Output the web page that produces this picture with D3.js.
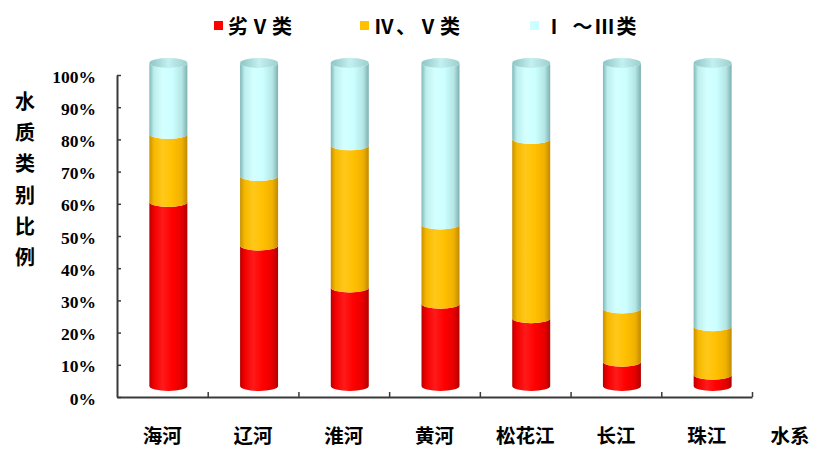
<!DOCTYPE html>
<html>
<head>
<meta charset="utf-8">
<script src="https://cdn.jsdelivr.net/npm/d3@7/dist/d3.min.js"></script>
<style>
  html, body { margin: 0; padding: 0; background: #fff; }
  svg { display: block; }
  .cjk { font-family: "Noto Sans CJK SC", sans-serif; font-weight: 700; }
  .num { font-family: "Liberation Serif", "DejaVu Serif", serif; font-weight: 700; }
</style>
</head>
<body>
<svg id="chart" width="817" height="449"></svg>
<script>
// River basins and the share of monitored sections in each water-quality class (%)
const basins = ["海河", "辽河", "淮河", "黄河", "松花江", "长江", "珠江"];
const worseThanV = [57, 43.5, 30.5, 25.5, 21, 7.5, 3.5];   // 劣Ⅴ类
const classIVtoV = [21, 21.5, 44, 24.5, 55.5, 16.5, 15];   // Ⅳ、Ⅴ类
const classItoIII = [22, 35, 25.5, 50, 23.5, 76, 81.5];    // Ⅰ～Ⅲ类
const seriesNames = ["劣Ⅴ类", "Ⅳ、Ⅴ类", "Ⅰ ～Ⅲ类"];
const yTicks = [0, 10, 20, 30, 40, 50, 60, 70, 80, 90, 100];

const svg = d3.select("#chart");
const plotL = 117, plotR = 752, plotT = 75, plotB = 397;
const depthX = 6, depthY = 6;   // 3D offset of the cylinders behind the axis plane
const ry = 5, halfW = 19;

const x = d3.scaleBand().domain(basins).range([plotL, plotR]).paddingInner(0).paddingOuter(0);
const y = d3.scaleLinear().domain([0, 100]).range([plotB, plotT]);
// centre line of the cylinder ellipses
const yc = d3.scaleLinear().domain([0, 100]).range([plotB - depthY - ry, plotT - depthY - ry - 1]);

// shaded fills for the cylinder bodies
const palettes = [
  { id: "gRed", stops: ["#b80000", "#f20000", "#ff1a1a", "#ff0000", "#e60000", "#b00000"] },
  { id: "gOrg", stops: ["#c89000", "#f5b800", "#ffc81a", "#ffc000", "#f0b000", "#c08a00"] },
  { id: "gCyn", stops: ["#7fb8b8", "#bdeeee", "#d4ffff", "#ccffff", "#b4e6e6", "#7fb0b0"] }
];
const defs = svg.append("defs");
palettes.forEach(p => {
  const g = defs.append("linearGradient").attr("id", p.id).attr("x1", "0").attr("x2", "1").attr("y1", "0").attr("y2", "0");
  const offs = [0, 0.12, 0.35, 0.6, 0.85, 1];
  p.stops.forEach((c, i) => g.append("stop").attr("offset", offs[i]).attr("stop-color", c));
});
const capGrad = defs.append("linearGradient").attr("id", "gCap").attr("x1", "0").attr("x2", "1");
[["0", "#8cc4c4"], ["0.5", "#c4f0f0"], ["1", "#9ccfcf"]].forEach(s => capGrad.append("stop").attr("offset", s[0]).attr("stop-color", s[1]));

// stacked data
const rows = basins.map((b, i) => ({ basin: b, s0: worseThanV[i], s1: classIVtoV[i], s2: classItoIII[i] }));
const stack = d3.stack().keys(["s0", "s1", "s2"])(rows);

function segPath(cx, v0, v1) {
  const l = cx - halfW, r = cx + halfW;
  const a = yc(v0), b = yc(v1);
  return `M${l},${b} L${l},${a} A${halfW},${ry} 0 0 0 ${r},${a} L${r},${b} A${halfW},${ry} 0 0 1 ${l},${b} Z`;
}

const bars = svg.append("g");
stack.forEach((layer, k) => {
  bars.selectAll(null).data(layer).enter().append("path")
    .attr("d", d => segPath(x(d.data.basin) + x.bandwidth() / 2 + depthX, d[0], d[1]))
    .attr("fill", `url(#${palettes[k].id})`);
});
// top caps
bars.selectAll(null).data(stack[2]).enter().append("ellipse")
  .attr("cx", d => x(d.data.basin) + x.bandwidth() / 2 + depthX)
  .attr("cy", d => yc(d[1]))
  .attr("rx", halfW).attr("ry", ry)
  .attr("fill", "url(#gCap)");

// y axis
const yAxis = svg.append("g").attr("transform", `translate(${plotL},0)`)
  .call(d3.axisLeft(y).tickValues(yTicks).tickFormat(d => d + "%").tickSize(-4).tickSizeOuter(0).tickPadding(21));
yAxis.select(".domain").attr("stroke", "#3a3a3a").attr("stroke-width", 2);
yAxis.selectAll(".tick line").attr("stroke", "#3a3a3a").attr("stroke-width", 1.5);
yAxis.selectAll(".tick text").attr("class", "num").attr("font-size", 17.5).attr("fill", "#000").attr("dy", "0.4em");

// x axis: category labels at band centres, ticks at band edges
const xAxis = svg.append("g").attr("transform", `translate(0,${plotB})`)
  .call(d3.axisBottom(x).tickSize(0).tickSizeOuter(0).tickPadding(32));
xAxis.select(".domain").attr("stroke", "#3a3a3a").attr("stroke-width", 2);
xAxis.selectAll(".tick text").attr("class", "cjk").attr("font-size", 19.5).attr("fill", "#000");
const xEdge = d3.scaleLinear().domain([0, basins.length]).range([plotL, plotR]);
const edgeAxis = svg.append("g").attr("transform", `translate(0,${plotB})`)
  .call(d3.axisBottom(xEdge).tickValues(d3.range(1, basins.length + 1)).tickSize(-5).tickFormat(""));
edgeAxis.select(".domain").remove();
edgeAxis.selectAll(".tick line").attr("stroke", "#3a3a3a").attr("stroke-width", 1.5);

// axis titles
svg.append("text").attr("class", "cjk").attr("x", 790).attr("y", 443)
  .attr("text-anchor", "middle").attr("font-size", 19.5).text("水系");
const yTitle = "水质类别比例".split("");
svg.append("g").selectAll("text").data(yTitle).enter().append("text")
  .attr("class", "cjk").attr("x", 25).attr("y", (d, i) => 109 + i * 31.2)
  .attr("text-anchor", "middle").attr("font-size", 20).text(d => d);

// legend
const legendX = [214, 360, 530];
const legendColors = ["#ff0000", "#ffc000", "#ccffff"];
const lg = svg.append("g");
seriesNames.forEach((n, i) => {
  lg.append("rect").attr("x", legendX[i]).attr("y", 21).attr("width", 9).attr("height", 9).attr("fill", legendColors[i]);
  lg.append("text").attr("class", "cjk").attr("x", legendX[i] + 14).attr("y", 34)
    .attr("font-size", 20).attr("letter-spacing", 2).text(n);
});
</script>
</body>
</html>
